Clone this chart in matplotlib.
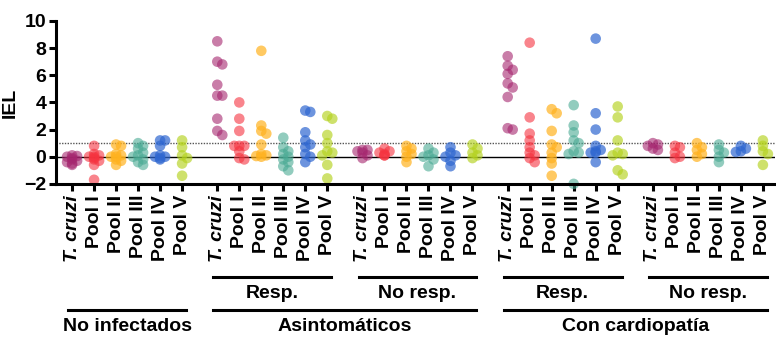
import numpy as np
import matplotlib.pyplot as plt
from matplotlib.transforms import blended_transform_factory

plt.rcParams['font.family'] = ['Liberation Sans', 'DejaVu Sans']
plt.rcParams['font.weight'] = 'bold'

CATEGORIES = ["T. cruzi", "Pool I", "Pool II", "Pool III", "Pool IV", "Pool V"]
COLORS = ["#A5266F", "#F5333F", "#FFB21F", "#4AAA94", "#2F67D0", "#B4D21E"]
ALPHAS = [0.6, 0.6, 0.7, 0.6, 0.7, 0.65]

no_infectados = [
    [0.1, 0.0, -0.1, -0.2, -0.3, -0.4, -0.5, -0.6, 0.05],
    [0.8, 0.2, 0.1, 0.0, -0.1, -0.2, -0.3, -0.6, -1.7, 0.0],
    [0.9, 0.8, 0.2, 0.1, 0.0, -0.2, -0.3, -0.6, 0.0],
    [1.0, 0.8, 0.6, 0.3, 0.1, 0.0, -0.2, -0.4, -0.6],
    [1.2, 1.2, 0.8, 0.1, 0.0, 0.0, -0.1, -0.2],
    [1.2, 0.7, 0.1, -0.1, -0.5, -1.4],
]
asint_resp = [
    [8.5, 7.0, 6.8, 5.3, 4.5, 4.5, 2.8, 1.9, 1.6],
    [4.0, 2.8, 1.9, 0.8, 0.8, 0.8, 0.4, -0.1, -0.2],
    [7.8, 2.3, 1.9, 1.7, 0.9, 0.2, 0.1, 0.0, 0.05],
    [1.4, 0.7, 0.4, 0.2, 0.0, -0.2, -0.4, -0.7, -1.0],
    [3.4, 3.3, 1.8, 1.2, 0.9, 0.7, 0.2, 0.0, -0.4],
    [3.0, 2.8, 1.6, 1.0, 0.4, 0.3, 0.1, -0.6, -1.6],
]
asint_noresp = [
    [0.5, 0.5, 0.4, 0.3, 0.1, -0.1],
    [0.6, 0.4, 0.3, 0.2, 0.1, 0.1],
    [0.8, 0.6, 0.4, 0.2, 0.0, -0.4],
    [0.6, 0.3, 0.1, 0.0, -0.2, -0.7],
    [0.7, 0.3, 0.1, 0.0, -0.3, -0.7],
    [0.9, 0.6, 0.3, 0.1, -0.1],
]
card_resp = [
    [7.4, 6.7, 6.4, 6.1, 5.4, 5.1, 4.4, 2.1, 2.0],
    [8.4, 2.9, 1.7, 1.2, 0.7, 0.3, 0.1, -0.1, -0.4],
    [3.5, 3.2, 1.9, 0.9, 0.7, 0.3, -0.1, -0.5, -1.4],
    [3.8, 2.3, 1.8, 1.2, 1.0, 0.4, 0.3, 0.2, -2.0],
    [8.7, 3.2, 2.0, 0.8, 0.5, 0.4, 0.3, 0.3, -0.4],
    [3.7, 2.9, 1.2, 0.3, 0.2, 0.1, -1.0, -1.3],
]
card_noresp = [
    [1.0, 0.9, 0.8, 0.6, 0.5],
    [0.8, 0.7, 0.3, 0.0, -0.1],
    [1.0, 0.7, 0.5, 0.2, 0.0],
    [0.9, 0.5, 0.3, 0.0, -0.4],
    [0.8, 0.6, 0.4, 0.35],
    [1.2, 0.8, 0.4, 0.2, -0.6],
]
GROUPS = [no_infectados, asint_resp, asint_noresp, card_resp, card_noresp]

SUB_LABELS = [(1, "Resp."), (2, "No resp."), (3, "Resp."), (4, "No resp.")]
MAIN_LABELS = [([0], "No infectados"), ([1, 2], "Asintomáticos"), ([3, 4], "Con cardiopatía")]

GROUP_STEP = 6.6
PX_X = 22.0   # pixels per x unit
PX_Y = 13.5   # pixels per y unit


def swarm_offsets(values, min_dist=4.5, step=5.0):
    # nudge points sideways a little when they sit on top of each other
    order = np.argsort(values)[::-1]
    placed = []
    offs = np.zeros(len(values))
    for idx in order:
        y = values[idx] * PX_Y
        best = 0.0
        for k in [0, 1, -1]:
            x = k * step
            if all(np.hypot(x - px, y - py) >= min_dist for px, py in placed):
                best = x
                break
        placed.append((best, y))
        offs[idx] = best / PX_X
    return offs


def main():
    fig = plt.figure(figsize=(7.76, 3.38), dpi=100)
    ax = fig.add_axes([0.0722, 0.456, 0.9265, 0.482])

    ax.axhline(0, color="black", lw=1.0, zorder=1)
    ax.axhline(1, color="#555555", lw=1.0, ls=(0, (1, 1)), zorder=1)

    ticks, ticklabels = [], []
    for g, group in enumerate(GROUPS):
        for i, vals in enumerate(group):
            xc = g * GROUP_STEP + i
            ticks.append(xc)
            ticklabels.append(CATEGORIES[i])
            vals = np.array(vals)
            xs = xc + swarm_offsets(vals)
            ax.scatter(xs, vals, s=58, color=COLORS[i], alpha=ALPHAS[i],
                       edgecolors="none", zorder=3, clip_on=False)

    ax.set_xlim(-0.73, 31.95)
    ax.set_ylim(-2, 10)
    ax.set_yticks([-2, 0, 2, 4, 6, 8, 10])
    ax.set_xticks(ticks)
    ax.set_xticklabels(ticklabels, rotation=90, fontsize=14, fontweight="bold")
    for lbl in ax.get_xticklabels():
        if lbl.get_text() == "T. cruzi":
            lbl.set_fontstyle("italic")
    ax.tick_params(axis="y", labelsize=14, width=2.2, length=5, pad=2)
    ax.tick_params(axis="x", width=2.2, length=5, pad=3)
    ax.set_ylabel("IEL", fontsize=14, fontweight="bold", labelpad=4)

    for side in ["top", "right"]:
        ax.spines[side].set_visible(False)
    for side in ["left", "bottom"]:
        ax.spines[side].set_linewidth(2.2)
        ax.spines[side].set_zorder(4)

    trans = blended_transform_factory(ax.transData, fig.transFigure)
    pad = 0.18
    for g, text in SUB_LABELS:
        x0 = g * GROUP_STEP - pad
        x1 = g * GROUP_STEP + 5 + pad
        ax.plot([x0, x1], [0.180, 0.180], color="black", lw=2.2,
                transform=trans, clip_on=False)
        ax.text((x0 + x1) / 2, 0.133, text, transform=trans, ha="center",
                va="center", fontsize=14, fontweight="bold")
    for gs, text in MAIN_LABELS:
        x0 = gs[0] * GROUP_STEP - pad
        x1 = gs[-1] * GROUP_STEP + 5 + pad
        ax.plot([x0, x1], [0.083, 0.083], color="black", lw=2.2,
                transform=trans, clip_on=False)
        ax.text((x0 + x1) / 2, 0.033, text, transform=trans, ha="center",
                va="center", fontsize=14, fontweight="bold")

    fig.savefig("out.png", dpi=100)


if __name__ == '__main__':
    main()
